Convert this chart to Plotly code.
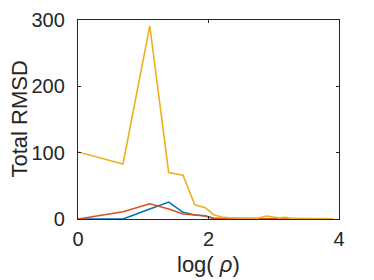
import plotly.graph_objects as go

# log(rho) positions
x_vals = [0.00, 0.69, 1.10, 1.39, 1.61, 1.79, 1.95, 2.08, 2.20, 2.30, 2.48, 2.64,
          2.77, 2.89, 3.00, 3.09, 3.18, 3.26, 3.33, 3.40, 3.53, 3.64, 3.74, 3.83, 3.91]
blue_vals = [0, 0, 15, 25.5, 10, 6, 4.5, 1, 0.5, 0.3, 0.2, 0.2,
             0.2, 0.2, 0.2, 0.2, 0.2, 0.1, 0.1, 0.1, 0.1, 0.1, 0.1, 0.1, 0.1]
red_vals = [0, 11, 23, 15, 7.5, 6, 5, 0.5, 0.3, 0.2, 0.2, 0.2,
            0.2, 0.3, 0.2, 0.2, 0.2, 0.1, 0.1, 0.1, 0.1, 0.1, 0.1, 0.1, 0.1]
yellow_vals = [101, 83, 291, 70, 66, 21.5, 17, 6.5, 3, 2, 1.5, 1,
               1.5, 4.5, 3, 1.5, 2.5, 1, 1, 0.8, 0.6, 0.5, 0.5, 0.4, 0.3]

x_ticks = [0, 2, 4]
y_ticks = [0, 100, 200, 300]
x_title = "log( <i>ρ</i>)"
y_title = "Total RMSD"

axis_color = "#262626"
font_family = "Liberation Sans, Arial, Helvetica, sans-serif"

# the page body adds an 8px offset; margins compensate so the plot box
# lands at x 78..339, y 20..219 in the window
W, H = 374, 280
ML, MR, MT, MB = 70, 43, 12, 69

fig = go.Figure()
for vals, col in [(blue_vals, "#0072BD"), (red_vals, "#D95319"), (yellow_vals, "#EDB120")]:
    fig.add_trace(go.Scatter(x=x_vals, y=vals, mode="lines",
                             line=dict(color=col, width=1.6), showlegend=False))

fig.update_layout(
    width=W, height=H,
    margin=dict(l=ML, r=MR, t=MT, b=MB, autoexpand=False),
    paper_bgcolor="white", plot_bgcolor="white",
    font=dict(family=font_family, color=axis_color, size=20),
)
common = dict(showgrid=False, zeroline=False, showline=True, mirror="ticks",
              linecolor=axis_color, linewidth=1.3, ticks="inside", ticklen=3,
              tickcolor=axis_color, tickwidth=1.3, automargin=False,
              tickfont=dict(size=20, color=axis_color))
fig.update_xaxes(range=[0, 4], tickvals=x_ticks, ticktext=[str(t) for t in x_ticks],
                 ticklabelstandoff=2, **common)
fig.update_yaxes(range=[0, 300], tickvals=y_ticks, ticktext=[str(t) for t in y_ticks],
                 ticklabelstandoff=8, **common)

# axis titles as annotations placed in pixel terms
fig.add_annotation(text=x_title, xref="paper", yref="paper", x=0.5, y=0,
                   yshift=-45, xanchor="center", yanchor="middle", borderpad=0,
                   showarrow=False, font=dict(size=22, color=axis_color))
fig.add_annotation(text=y_title, xref="paper", yref="paper", x=0, y=0.5,
                   xshift=-59, xanchor="center", yanchor="middle", borderpad=0,
                   textangle=-90, showarrow=False, font=dict(size=22, color=axis_color))

fig.write_html("out.html")
